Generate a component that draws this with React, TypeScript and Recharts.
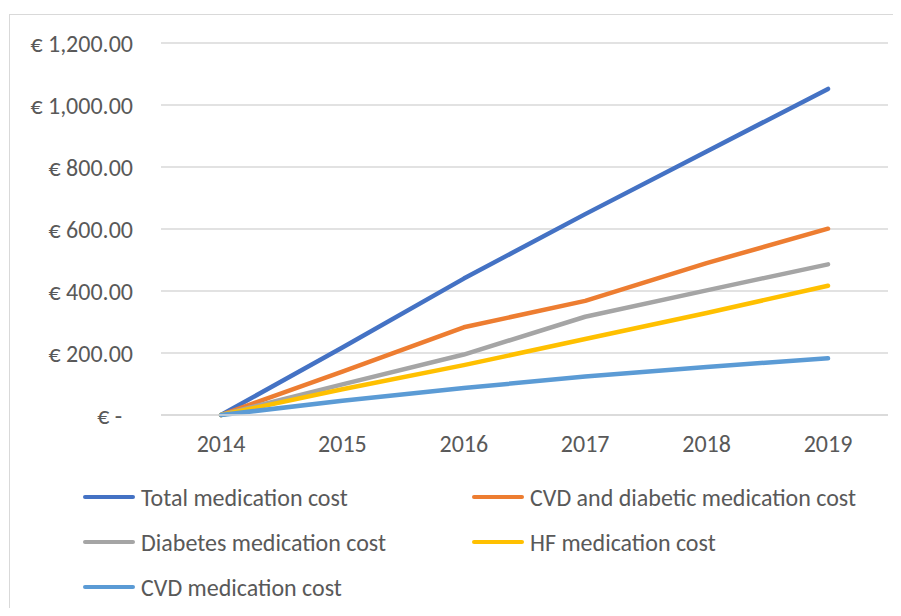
import { LineChart, Line, XAxis, YAxis, CartesianGrid } from "recharts";

const years = ["2014", "2015", "2016", "2017", "2018", "2019"];
const totalCost = [0, 218, 440, 648, 850, 1052];
const cvdDiabeticCost = [0, 140, 283, 368, 490, 601];
const diabetesCost = [0, 99, 195, 317, 402, 486];
const hfCost = [0, 83, 161, 245, 329, 417];
const cvdCost = [0, 46, 87, 124, 155, 183];
const yTicks = [0, 200, 400, 600, 800, 1000, 1200];

const series = [
  { key: "total", name: "Total medication cost", color: "#4472C4", values: totalCost },
  { key: "cvdDiabetic", name: "CVD and diabetic medication cost", color: "#ED7D31", values: cvdDiabeticCost },
  { key: "diabetes", name: "Diabetes medication cost", color: "#A5A5A5", values: diabetesCost },
  { key: "hf", name: "HF medication cost", color: "#FFC000", values: hfCost },
  { key: "cvd", name: "CVD medication cost", color: "#5B9BD5", values: cvdCost },
];

const data = years.map((year, i) => {
  const row: Record<string, string | number> = { year };
  series.forEach((s) => {
    row[s.key] = s.values[i];
  });
  return row;
});

const FONT = "Carlito, Calibri, 'Liberation Sans', sans-serif";
const TEXT = "#595959";
const FS = 24;

const euro = (v: number) =>
  v === 0
    ? "€ -\u00a0\u00a0"
    : "€ " + v.toLocaleString("en-US", { minimumFractionDigits: 2, maximumFractionDigits: 2 });

// legend laid out in two columns like the Excel original
const legendPos = [
  { left: 83, top: 497 },
  { left: 472, top: 497 },
  { left: 83, top: 542 },
  { left: 472, top: 542 },
  { left: 83, top: 587 },
];

export default function App() {
  return (
    <div style={{ position: "relative", width: 901, height: 616, margin: -8, overflow: "hidden", background: "#fff" }}>
      <div
        style={{
          position: "absolute",
          left: 9,
          top: 14,
          width: 900,
          height: 620,
          border: "1.5px solid #d9d9d9",
        }}
      />
      <div style={{ position: "absolute", left: 0, top: 0 }}>
        <LineChart width={901} height={616} data={data} margin={{ top: 43, right: 13, left: 11, bottom: 171 }}>
          <CartesianGrid vertical={false} stroke="#d9d9d9" strokeWidth={1.3} />
          <XAxis
            dataKey="year"
            height={30}
            padding={{ left: 60, right: 60 }}
            axisLine={{ stroke: "#d9d9d9", strokeWidth: 1.3 }}
            tickLine={false}
            tickSize={0}
            tickMargin={20}
            tick={{ fill: TEXT, fontSize: FS, fontFamily: FONT }}
          />
          <YAxis
            width={150}
            domain={[0, 1200]}
            ticks={yTicks}
            axisLine={false}
            tickLine={false}
            tickSize={0}
            tickMargin={28}
            tickFormatter={euro}
            tick={{ fill: TEXT, fontSize: FS, fontFamily: FONT }}
          />
          {series.map((s) => (
            <Line
              key={s.key}
              dataKey={s.key}
              name={s.name}
              type="linear"
              stroke={s.color}
              strokeWidth={4.5}
              strokeLinecap="round"
              strokeLinejoin="round"
              dot={false}
              activeDot={false}
              isAnimationActive={false}
            />
          ))}
        </LineChart>
      </div>
      {series.map((s, i) => (
        <div
          key={s.key}
          style={{
            position: "absolute",
            left: legendPos[i].left,
            top: legendPos[i].top - 15,
            height: 30,
            display: "flex",
            alignItems: "center",
            fontFamily: FONT,
            fontSize: FS,
            color: TEXT,
            whiteSpace: "nowrap",
          }}
        >
          <span
            style={{
              display: "inline-block",
              width: 52,
              height: 4.5,
              borderRadius: 3,
              background: s.color,
              marginRight: 6,
            }}
          />
          {s.name}
        </div>
      ))}
    </div>
  );
}
